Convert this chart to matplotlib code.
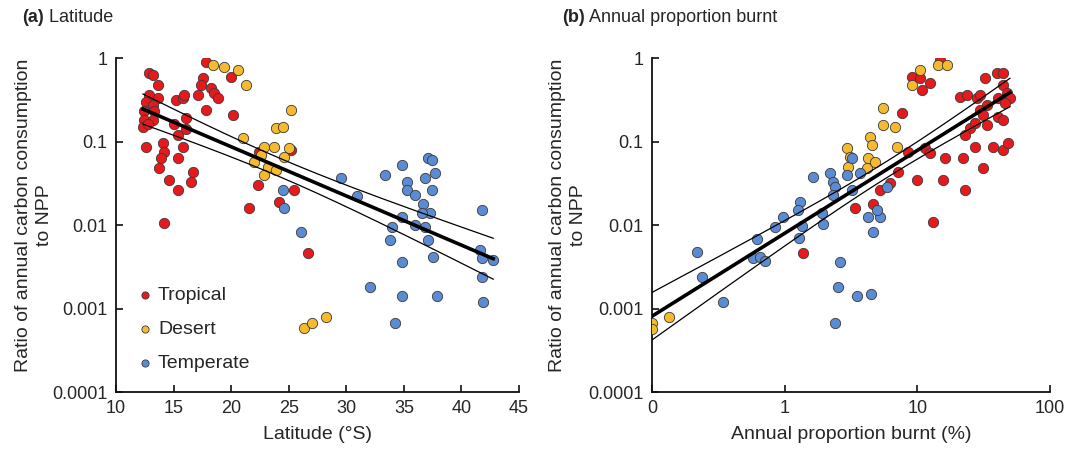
import numpy as np
import matplotlib
matplotlib.use("Agg")
import matplotlib.pyplot as plt

plt.rcParams['font.family'] = ['Liberation Sans', 'DejaVu Sans']

# ---------------- data: panel (a) latitude ----------------
lat_trop = [12.86, 13.21, 13.64, 12.86, 12.60, 13.64, 13.21, 13.29, 12.43, 12.43, 13.21, 12.34, 12.77,
            15.20, 15.81, 15.89, 16.07, 15.03, 15.37, 16.07, 12.60, 14.07, 14.16, 15.81, 13.90, 15.37,
            13.73, 16.67, 16.50, 14.59, 15.37, 17.80, 17.54, 17.37, 18.23, 18.49, 18.84, 17.11, 17.80,
            20.14, 19.97, 22.30, 25.42, 24.12, 21.53, 14.16, 26.64, 22.40, 25.20]
ratio_trop_a = [0.66, 0.63, 0.48, 0.36, 0.30, 0.33, 0.27, 0.23, 0.23, 0.18, 0.18, 0.15, 0.16,
                0.31, 0.33, 0.36, 0.19, 0.16, 0.12, 0.14, 0.086, 0.096, 0.075, 0.086, 0.063, 0.063,
                0.048, 0.043, 0.033, 0.035, 0.026, 0.89, 0.58, 0.48, 0.44, 0.38, 0.33, 0.36, 0.24,
                0.21, 0.59, 0.030, 0.026, 0.019, 0.016, 0.0105, 0.0046, 0.075, 0.079]

lat_des = [18.41, 19.36, 20.57, 21.27, 25.16, 23.86, 24.47, 21.00, 22.82, 23.69, 24.99, 24.56,
           22.56, 21.96, 23.17, 23.86, 22.82, 26.29, 26.98, 28.28]
ratio_des_a = [0.82, 0.78, 0.72, 0.48, 0.24, 0.145, 0.15, 0.11, 0.086, 0.086, 0.083, 0.065,
               0.069, 0.057, 0.049, 0.046, 0.040, 0.00058, 0.00067, 0.00079]

lat_temp = [24.47, 24.56, 26.03, 29.50, 30.97, 33.40, 34.87, 37.12, 37.47, 37.73, 36.86, 35.30,
            35.30, 36.00, 37.47, 36.69, 37.30, 36.60, 34.87, 41.80, 34.00, 36.00, 36.86, 33.83,
            37.12, 41.63, 41.80, 42.76, 34.87, 37.56, 41.80, 32.10, 34.87, 37.90, 41.89, 34.26]
ratio_temp_a = [0.026, 0.016, 0.0083, 0.037, 0.022, 0.040, 0.052, 0.063, 0.060, 0.042, 0.037, 0.033,
                0.026, 0.023, 0.026, 0.018, 0.014, 0.014, 0.0125, 0.015, 0.0095, 0.010, 0.0095, 0.0066,
                0.0066, 0.0050, 0.0040, 0.0038, 0.0036, 0.0041, 0.0024, 0.0018, 0.0014, 0.0014, 0.0012,
                0.00067]

# ---------------- data: panel (b) annual proportion burnt (%) ----------------
burnt_trop = [1.37, 7.66, 8.5, 11.4, 12.4, 16.1, 22.1, 7.14, 9.9, 15.6, 22.9, 6.2, 5.2, 4.6, 3.4,
              13.1, 27.2, 31.2, 37.1, 44.2, 48.2, 9.1, 10.5, 12.4, 10.8, 14.8, 20.9, 23.6, 28.1,
              29.7, 32.4, 39.8, 44.2, 44.2, 47.3, 49.9, 40.5, 33.5, 29.7, 31.2, 40.5, 44.2, 24.9,
              22.9, 33.5, 27.2, 45.7]
ratio_trop_b = [0.0046, 0.22, 0.075, 0.083, 0.073, 0.063, 0.063, 0.043, 0.035, 0.035, 0.026, 0.032,
                0.026, 0.018, 0.016, 0.011, 0.086, 0.048, 0.086, 0.079, 0.096, 0.59, 0.58, 0.50, 0.41,
                0.95, 0.34, 0.36, 0.33, 0.36, 0.58, 0.66, 0.66, 0.48, 0.38, 0.33, 0.33, 0.27, 0.24,
                0.21, 0.196, 0.18, 0.145, 0.12, 0.158, 0.166, 0.29]

burnt_des = [0, 0, 0.134, 2.95, 3.0, 4.17, 4.25, 4.79, 4.40, 4.55, 5.51, 5.51, 6.78, 7.02, 9.1,
             10.4, 14.3, 16.7, 3.1]
ratio_des_b = [0.00067, 0.00057, 0.00079, 0.083, 0.049, 0.048, 0.063, 0.057, 0.113, 0.091, 0.25,
               0.158, 0.149, 0.086, 0.48, 0.72, 0.82, 0.82, 0.065]

burnt_temp = [1.63, 2.19, 2.31, 2.39, 2.31, 1.30, 1.26, 0.97, 0.85, 1.91, 1.94, 1.35, 0.62, 1.28,
              0.58, 0.65, 0.71, 0.22, 0.24, 0.34, 2.52, 2.39, 3.21, 2.95, 3.21, 3.69, 4.25, 5.23,
              4.96, 4.62, 5.90, 2.60, 3.50, 4.50]
ratio_temp_b = [0.0376, 0.042, 0.0327, 0.0285, 0.0229, 0.0188, 0.0151, 0.0125, 0.0095, 0.0139,
                0.0103, 0.0097, 0.0068, 0.0070, 0.0040, 0.0041, 0.0037, 0.0048, 0.0024, 0.0012,
                0.0018, 0.00067, 0.063, 0.040, 0.026, 0.042, 0.0125, 0.0125, 0.015, 0.0083, 0.0285,
                0.0036, 0.0014, 0.0015]

biomes = ["Tropical", "Desert", "Temperate"]
colors = ["#E8191C", "#F5BA2E", "#5B8BD3"]

y_ticks = [0.0001, 0.001, 0.01, 0.1, 1]
y_ticklabels = ["0.0001", "0.001", "0.01", "0.1", "1"]
xa_ticks = [10, 15, 20, 25, 30, 35, 40, 45]
xb_ticks = [0.1, 1, 10, 100]
xb_ticklabels = ["0", "1", "10", "100"]
ZERO_POS = 0.1  # "0" on the log axis


def fit_with_ci(x, logy, xs):
    x = np.asarray(x, float)
    logy = np.asarray(logy, float)
    n = len(x)
    b, a = np.polyfit(x, logy, 1)
    res = logy - (a + b * x)
    s = np.sqrt(np.sum(res ** 2) / (n - 2))
    xm = x.mean()
    sxx = np.sum((x - xm) ** 2)
    yhat = a + b * xs
    half = 1.98 * s * np.sqrt(1.0 / n + (xs - xm) ** 2 / sxx)
    return yhat, yhat - half, yhat + half


fig = plt.figure(figsize=(10.75, 4.69), dpi=100)
axa = fig.add_axes([116 / 1075, 1 - 392 / 469, 403 / 1075, 334 / 469])
axb = fig.add_axes([652 / 1075, 1 - 392 / 469, 398 / 1075, 334 / 469])

sc_kw = dict(s=55, edgecolors="#3a3a3a", linewidths=0.6, zorder=3)

# panel (a)
for xs_, ys_, c, lab in [(lat_trop, ratio_trop_a, colors[0], biomes[0]),
                         (lat_des, ratio_des_a, colors[1], biomes[1]),
                         (lat_temp, ratio_temp_a, colors[2], biomes[2])]:
    axa.scatter(xs_, ys_, color=c, label=lab, **sc_kw)

xa_all = np.array(lat_trop + lat_des + lat_temp)
ya_all = np.log10(np.array(ratio_trop_a + ratio_des_a + ratio_temp_a))
xg = np.linspace(xa_all.min(), xa_all.max(), 200)
yh, lo, hi = fit_with_ci(xa_all, ya_all, xg)
axa.plot(xg, 10 ** yh, color="black", lw=2.6, zorder=4)
axa.plot(xg, 10 ** lo, color="black", lw=0.9, zorder=4)
axa.plot(xg, 10 ** hi, color="black", lw=0.9, zorder=4)


# panel (b)
def zpos(v):
    v = np.asarray(v, float)
    return np.where(v <= 0, ZERO_POS, v)


for xs_, ys_, c in [(burnt_trop, ratio_trop_b, colors[0]),
                    (burnt_des, ratio_des_b, colors[1]),
                    (burnt_temp, ratio_temp_b, colors[2])]:
    axb.scatter(zpos(xs_), ys_, color=c, **sc_kw)

xb_all = np.log10(zpos(burnt_trop + burnt_des + burnt_temp))
yb_all = np.log10(np.array(ratio_trop_b + ratio_des_b + ratio_temp_b))
xgb = np.linspace(xb_all.min(), xb_all.max(), 200)
yh, lo, hi = fit_with_ci(xb_all, yb_all, xgb)
axb.plot(10 ** xgb, 10 ** yh, color="black", lw=2.6, zorder=4)
axb.plot(10 ** xgb, 10 ** lo, color="black", lw=0.9, zorder=4)
axb.plot(10 ** xgb, 10 ** hi, color="black", lw=0.9, zorder=4)

tick_color = "#262626"
for ax in (axa, axb):
    ax.set_yscale("log")
    ax.set_ylim(0.0001, 1)
    ax.set_yticks(y_ticks)
    ax.set_yticklabels(y_ticklabels)
    ax.yaxis.set_minor_locator(matplotlib.ticker.NullLocator())
    for side in ("top", "right"):
        ax.spines[side].set_visible(False)
    for side in ("left", "bottom"):
        ax.spines[side].set_linewidth(1.3)
        ax.spines[side].set_color("#111111")
    ax.tick_params(direction="in", length=5, width=1.2, labelsize=13, colors="#111111",
                   labelcolor=tick_color, pad=6)
    ax.set_facecolor("white")

axa.set_xlim(10, 45)
axa.set_xticks(xa_ticks)
axa.set_xticklabels([str(t) for t in xa_ticks])
axa.set_xlabel("Latitude (°S)", fontsize=14, color=tick_color, labelpad=6)

axb.set_xscale("log")
axb.set_xlim(0.1, 100)
axb.set_xticks(xb_ticks)
axb.set_xticklabels(xb_ticklabels)
axb.xaxis.set_minor_locator(matplotlib.ticker.NullLocator())
axb.set_xlabel("Annual proportion burnt (%)", fontsize=14, color=tick_color, labelpad=6)

ylab = "Ratio of annual carbon consumption\nto NPP"
fig.text(34 / 1075, 1 - 215 / 469, ylab, rotation=90, ha="center", va="center",
         multialignment="center", fontsize=14, color=tick_color, linespacing=1.25)
fig.text(568 / 1075, 1 - 215 / 469, ylab, rotation=90, ha="center", va="center",
         multialignment="center", fontsize=14, color=tick_color, linespacing=1.25)

leg = axa.legend(loc="lower left", bbox_to_anchor=(0.02, 0.025), frameon=False, fontsize=14,
                 markerscale=0.7, handletextpad=0.15, labelspacing=0.85, borderaxespad=0.2,
                 handlelength=1.0, labelcolor=tick_color)

# panel titles: bold letter followed by normal text
for x0, letter, rest in [(22 / 1075, "(a)", " Latitude"), (562 / 1075, "(b)", " Annual proportion burnt")]:
    t1 = fig.text(x0, 1 - 26 / 469, letter, fontsize=13, fontweight="bold", color=tick_color,
                  va="bottom", ha="left")
    fig.add_artist(matplotlib.text.Annotation(rest, xy=(1, 0), xycoords=t1, va="bottom", ha="left",
                                              fontsize=13, color=tick_color))

fig.savefig("out.png", dpi=100, facecolor="white")
